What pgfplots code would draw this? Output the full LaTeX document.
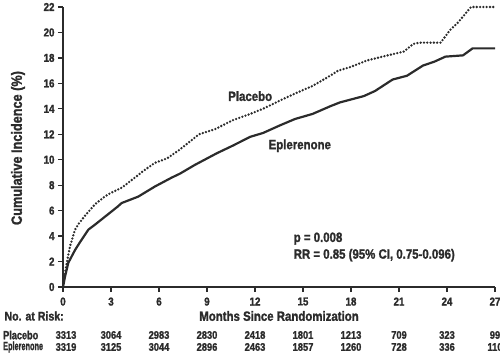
\documentclass[border=0pt]{standalone}
\usepackage{fontspec}
\setmainfont{Liberation Sans Bold}[FakeStretch=0.85, FakeBold=1.5]
\usepackage{pgfplots}
\pgfplotsset{compat=1.18}
\definecolor{ink}{HTML}{2B2B2B}
\begin{document}
\begin{tikzpicture}[x=1bp,y=1bp]
\useasboundingbox (-63,-67) rectangle (437,287);
\begin{axis}[
  at={(0,0)}, anchor=south west,
  scale only axis, width=432bp, height=280bp,
  xmin=0, xmax=27, ymin=0, ymax=22,
  axis x line=bottom, axis y line=left,
  axis line style={-, line width=1.4bp, ink},
  xtick={0,3,...,27}, ytick={0,2,...,22},
  tick align=outside, major tick length=5bp,
  tick style={line width=1.3bp, ink},
  /pgf/number format/assume math mode=true,
  ticklabel style={font=\fontsize{11.5}{13}\selectfont, text=ink},
  xticklabel style={yshift=-2bp},
  clip=false,
  ylabel={Cumulative Incidence (\%)},
  ylabel style={font=\fontsize{15}{16}\selectfont, text=ink},
  every axis y label/.append style={at={(-45bp,139bp)}, anchor=center},
]
\addplot[ink, line width=2.6bp, line cap=round, dash pattern=on 0bp off 3.3bp] coordinates {
(0,0) (0.1,0.9) (0.25,2.0) (0.44,3.2) (0.75,4.5) (1.0,5.0) (1.375,5.6) (2.0,6.5) (2.6,7.1) (3.0,7.4) (3.67,7.8) (4.5,8.6) (5.0,9.1) (5.75,9.76) (6.5,10.1) (7.3,10.8) (8.5,12.0) (9.5,12.4) (10.6,13.1) (11.7,13.6) (12.5,14.0) (13.56,14.65) (14.5,15.2) (15.6,15.8) (16.7,16.6) (17.2,17.0) (18,17.3) (19,17.8) (20.3,18.2) (21.3,18.5) (21.9,19.1) (22.3,19.2) (23.6,19.2) (24.2,20.2) (24.7,20.8) (25.3,21.7) (25.5,22.0) (27,22.0)
};
\addplot[ink, line width=2.2bp] coordinates {
(0,0) (0.125,0.8) (0.33,1.9) (0.75,2.9) (1.0,3.4) (1.58,4.5) (2.0,4.9) (2.6,5.5) (3.0,5.9) (3.4,6.3) (3.67,6.6) (4.7,7.1) (5.75,7.9) (6.8,8.6) (7.3,8.9) (8.25,9.6) (9.0,10.1) (9.6,10.5) (10.6,11.1) (11.7,11.8) (12.5,12.1) (13.56,12.7) (14.5,13.2) (15.6,13.6) (16.7,14.2) (17.3,14.5) (18.8,15.0) (19.5,15.4) (20.6,16.3) (21.5,16.6) (22.5,17.4) (23.2,17.7) (23.9,18.1) (25.0,18.2) (25.6,18.75) (27,18.75)
};
\begin{scope}[every node/.style={text=ink, font=\fontsize{13.5}{15}\selectfont}]
\node at (axis cs:11.7,15.0) {Placebo};
\node at (axis cs:14.8,11.1) {Eplerenone};
\node[anchor=west] at (axis cs:14.2,3.8) {p = 0.008};
\node[anchor=west] at (axis cs:14.2,2.5) {RR = 0.85 (95\% CI, 0.75-0.096)};
\end{scope}
\begin{scope}[every node/.style={text=ink, font=\fontsize{13.5}{14}\selectfont}]
\node at (axis cs:13.5,0) [yshift=-29bp] {Months Since Randomization};
\end{scope}
\begin{scope}[every node/.style={text=ink, font=\fontsize{12.5}{14}\selectfont}]
\node[anchor=west] at (axis cs:0,0) [xshift=-62bp, yshift=-29bp] {No. at Risk:};
\end{scope}
\begin{scope}[every node/.style={text=ink, font=\fontsize{12}{13}\selectfont, inner sep=0pt}]
\node[anchor=west] at (axis cs:0,0) [xshift=-60bp, yshift=-48bp] {\scalebox{0.9}[1]{Placebo}};
\node[anchor=west] at (axis cs:0,0) [xshift=-60bp, yshift=-60bp] {\scalebox{0.72}[1]{Eplerenone}};
\end{scope}
\begin{scope}[every node/.style={text=ink, font=\fontsize{11}{13}\selectfont}]
\node at (axis cs:0,0) [xshift=3bp, yshift=-48bp] {3313};
\node at (axis cs:3,0) [yshift=-48bp] {3064};
\node at (axis cs:6,0) [yshift=-48bp] {2983};
\node at (axis cs:9,0) [yshift=-48bp] {2830};
\node at (axis cs:12,0) [yshift=-48bp] {2418};
\node at (axis cs:15,0) [yshift=-48bp] {1801};
\node at (axis cs:18,0) [yshift=-48bp] {1213};
\node at (axis cs:21,0) [yshift=-48bp] {709};
\node at (axis cs:24,0) [yshift=-48bp] {323};
\node at (axis cs:27,0) [yshift=-48bp] {99};
\node at (axis cs:0,0) [xshift=3bp, yshift=-60bp] {3319};
\node at (axis cs:3,0) [yshift=-60bp] {3125};
\node at (axis cs:6,0) [yshift=-60bp] {3044};
\node at (axis cs:9,0) [yshift=-60bp] {2896};
\node at (axis cs:12,0) [yshift=-60bp] {2463};
\node at (axis cs:15,0) [yshift=-60bp] {1857};
\node at (axis cs:18,0) [yshift=-60bp] {1260};
\node at (axis cs:21,0) [yshift=-60bp] {728};
\node at (axis cs:24,0) [yshift=-60bp] {336};
\node at (axis cs:27,0) [yshift=-60bp] {110};
\end{scope}
\end{axis}
\end{tikzpicture}
\end{document}
